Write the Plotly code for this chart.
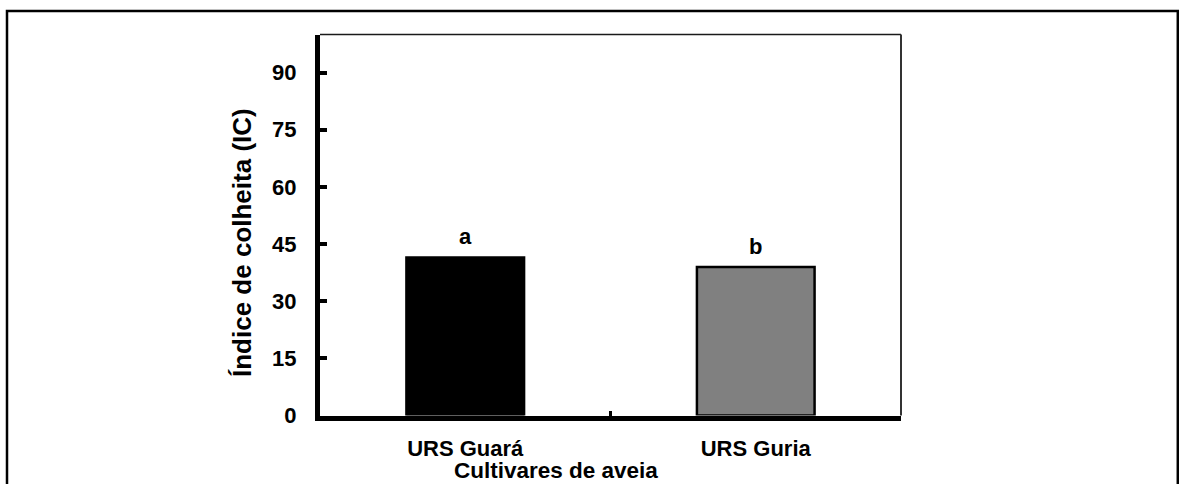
import plotly.graph_objects as go

# Harvest index by oat cultivar
cultivares = ["URS Guará", "URS Guria"]
indice_colheita = [41.5, 39.0]
letras = ["a", "b"]
cores = ["#000000", "#808080"]
y_ticks = [0, 15, 30, 45, 60, 75, 90]

W, H = 1179, 484
FONT = "Arial, Liberation Sans, sans-serif"


def px_x(v):
    return v / W


def px_y(v):
    return 1 - v / H


fig = go.Figure()
fig.add_trace(go.Bar(
    x=cultivares,
    y=indice_colheita,
    width=0.405,
    marker=dict(color=cores, line=dict(color="#000000", width=2.5)),
    showlegend=False,
    hoverinfo="x+y",
))

# significance letters above each bar
for c, v, t in zip(cultivares, indice_colheita, letras):
    fig.add_annotation(
        x=c, y=v, xref="x", yref="y", text=t, showarrow=False,
        yanchor="bottom", yshift=6,
        font=dict(family=FONT, size=22, color="#000000", weight="bold"),
    )

# axis titles
fig.add_annotation(
    x=px_x(556), y=0, xref="paper", yref="paper",
    text="Cultivares de aveia", showarrow=False,
    xanchor="center", yanchor="bottom", borderpad=0,
    font=dict(family=FONT, size=22.5, color="#000000", weight="bold"),
)
fig.add_annotation(
    x=px_x(242), y=px_y(243), xref="paper", yref="paper",
    text="Índice de colheita (IC)", showarrow=False, textangle=-90,
    xanchor="center", yanchor="middle",
    font=dict(family=FONT, size=26, color="#000000", weight="bold"),
)

# thin top and right borders of the plotting area
fig.add_shape(type="line", xref="x domain", yref="y domain",
              x0=0, y0=1, x1=1, y1=1, line=dict(color="#1a1a1a", width=1.5))
fig.add_shape(type="line", xref="x domain", yref="y domain",
              x0=1, y0=1, x1=1, y1=0, line=dict(color="#333333", width=2))

# outer frame around the whole figure
fig.add_shape(type="rect", xref="paper", yref="paper",
              x0=px_x(7), y0=-0.05, x1=px_x(1177.8), y1=px_y(11),
              line=dict(color="#000000", width=2.5), fillcolor="rgba(0,0,0,0)")

fig.update_layout(
    width=W, height=H,
    margin=dict(l=0, r=0, t=0, b=0, autoexpand=False),
    paper_bgcolor="#ffffff",
    plot_bgcolor="#ffffff",
    bargap=0.6,
    xaxis=dict(
        domain=[px_x(320), px_x(901)],
        range=[-0.5, 1.5],
        automargin=False,
        showline=True, linecolor="#000000", linewidth=4.5,
        ticks="inside", tickson="boundaries", ticklen=5, tickwidth=3,
        tickcolor="#000000",
        showgrid=False, zeroline=False,
        tickfont=dict(family=FONT, size=22, color="#000000", weight="bold"),
        ticklabelstandoff=9,
    ),
    yaxis=dict(
        domain=[px_y(415.5), px_y(34.5)],
        range=[0, 100],
        automargin=False,
        tickvals=y_ticks,
        showline=True, linecolor="#000000", linewidth=5,
        ticks="inside", ticklen=7, tickwidth=3.5, tickcolor="#000000",
        showgrid=False, zeroline=False,
        tickfont=dict(family=FONT, size=22, color="#000000", weight="bold"),
        ticklabelstandoff=14,
    ),
)

fig.write_html("out.html")
